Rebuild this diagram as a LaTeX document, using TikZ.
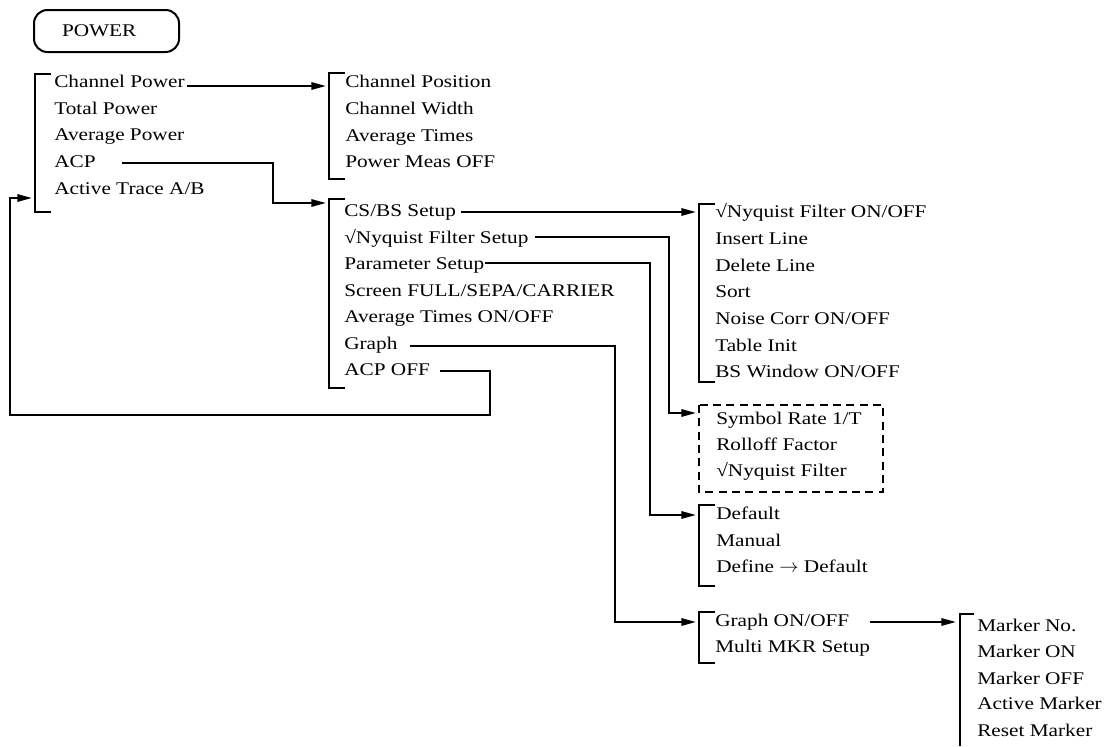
\documentclass[tikz,border=0pt]{standalone}
\usepackage{fontspec}
\newfontfamily\menufont{Liberation Serif}[FakeStretch=1.19]
\usetikzlibrary{arrows.meta,calc}
% bracket of a menu: x, top y, bottom y
\newcommand\menubrk[3]{\draw[brk] ({#1+16},#2) -- (#1,#2) -- (#1,#3) -- ({#1+16},#3);}

\begin{document}
\begin{tikzpicture}[
  x=0.75pt, y=-0.75pt,
  >={Triangle[length=11pt,width=5.5pt]},
  item/.style={anchor=west, inner sep=0pt, text height=9pt, text depth=2.5pt,
     font=\menufont\fontsize{13.4pt}{16pt}\selectfont},
  keybox/.style={draw, rounded corners=10pt, line width=1.5pt, anchor=west,
     minimum height=31.5pt, inner xsep=21pt, text width=66.75pt, align=left,
     font=\menufont\fontsize{13.4pt}{16pt}\selectfont},
  brk/.style={line width=1.5pt},
  arr/.style={->, line width=1.5pt},
  dashbox/.style={line width=1.5pt, dash pattern=on 6pt off 4pt},
]
\useasboundingbox (0,0) rectangle (1110,746);
% --- columns ---
\def\xa{54}  \def\xb{344}  \def\xc{715}  \def\xd{977}
\def\ba{35}  \def\bb{329}  \def\bc{699}  \def\bd{960}
\coordinate (bka) at (\ba-3,0);  \coordinate (bkb) at (\bb-3,0);
\coordinate (bkc) at (\bc-3,0);  \coordinate (bkd) at (\bd-4,0);
% --- key ---
\node[keybox] (power) at (33,31) {POWER};
% --- power menu ---
\node[item] (chpow)  at (\xa,83)    {Channel Power};
\node[item] (totpow) at (\xa,110)   {Total Power};
\node[item] (avgpow) at (\xa,136.5) {Average Power};
\node[item] (acp)    at (\xa,163)   {ACP};
\node[item] (acttr)  at (\xa,190)   {Active Trace A/B};
\menubrk{\ba}{74}{212}
% --- channel power menu ---
\node[item] (chpos) at (\xb+1,83)  {Channel Position};
\node[item] (chwid) at (\xb+1,110) {Channel Width};
\node[item] (avgt)  at (\xb+1,137) {Average Times};
\node[item] (pmoff) at (\xb+1,163) {Power Meas OFF};
\menubrk{\bb}{73}{179}
% --- acp menu ---
\node[item] (csbs)     at (\xb,212)   {CS/BS Setup};
\node[item] (nyqset)   at (\xb,239)   {√Nyquist Filter Setup};
\node[item] (parset)   at (\xb,265.5) {Parameter Setup};
\node[item] (screen)   at (\xb,292)   {Screen FULL/SEPA/CARRIER};
\node[item] (avgonoff) at (\xb,318.5) {Average Times ON/OFF};
\node[item] (graph)    at (\xb,345)   {Graph};
\node[item] (acpoff)   at (\xb,371)   {ACP OFF};
\menubrk{\bb}{199}{388}
% --- cs/bs menu ---
\node[item] (nyqon)   at (\xc,213) {√Nyquist Filter ON/OFF};
\node[item] (insln)   at (\xc,240) {Insert Line};
\node[item] (delln)   at (\xc,267) {Delete Line};
\node[item] (sort)    at (\xc,293) {Sort};
\node[item] (noise)   at (\xc,320) {Noise Corr ON/OFF};
\node[item] (tblinit) at (\xc,347) {Table Init};
\node[item] (bswin)   at (\xc,373) {BS Window ON/OFF};
\menubrk{\bc}{204}{382}
% --- nyquist filter setup (dashed) ---
\node[item] (symrate) at (\xc+1,420) {Symbol Rate 1/T};
\node[item] (rolloff) at (\xc+1,446) {Rolloff Factor};
\node[item] (nyqflt)  at (\xc+1,472) {√Nyquist Filter};
\draw[dashbox] (\bc,405) rectangle (883,492);
% --- parameter menu ---
\node[item] (deflt)  at (\xc+1,515) {Default};
\node[item] (manual) at (\xc+1,542) {Manual};
\node[item] (defdef) at (\xc+1,568) {Define $\rightarrow$ Default};
\menubrk{\bc}{505}{586}
% --- graph menu ---
\node[item] (graphon)  at (\xc,622) {Graph ON/OFF};
\node[item] (multimkr) at (\xc,648) {Multi MKR Setup};
\menubrk{\bc}{612}{663}
% --- marker menu ---
\node[item] (mkno)  at (\xd,627) {Marker No.};
\node[item] (mkon)  at (\xd,653) {Marker ON};
\node[item] (mkoff) at (\xd,680) {Marker OFF};
\node[item] (actmk) at (\xd,705) {Active Marker};
\node[item] (rstmk) at (\xd,732) {Reset Marker};
\draw[brk] (\bd+14,614) -- (\bd,614) -- (\bd,746);
% --- arrows ---
\coordinate (o1) at ($(chpow.east)+(2,3)$);
\draw[arr] (o1) -- (o1 -| bkb);
% acp -> acp menu
\coordinate (o2) at ($(acp.east)+(26,0)$);
\coordinate (j2) at (273,203);
\draw[arr] (o2) -| (j2) -- (j2 -| bkb);
% acp menu -> sub menus
\coordinate (o3) at ($(csbs.east)+(5,0)$);
\draw[arr] (o3) -- (o3 -| bkc);
\coordinate (o4) at ($(nyqset.east)+(6,-2)$);
\coordinate (j4) at (669,413);
\draw[arr] (o4) -| (j4) -- (j4 -| bkc);
\coordinate (o5) at ($(parset.east)+(1,-3)$);
\coordinate (j5) at (650,0);
\draw[arr] (o5) -| (j5 |- deflt) -- (deflt -| bkc);
\coordinate (o6) at ($(graph.east)+(12,1)$);
\coordinate (j6) at (615,0);
\draw[arr] (o6) -| (j6 |- graphon) -- (graphon -| bkc);
% acp off -> back to power menu
\coordinate (o7) at ($(acpoff.east)+(10,0)$);
\coordinate (j7) at (490,415);
\coordinate (j8) at (10,198);
\draw[arr] (o7) -| (j7) -| (j8) -- (j8 -| bka);
% graph on/off -> marker menu
\coordinate (o9) at ($(graphon.east)+(20,0)$);
\draw[arr] (o9) -- (o9 -| bkd);
\end{tikzpicture}
\end{document}
